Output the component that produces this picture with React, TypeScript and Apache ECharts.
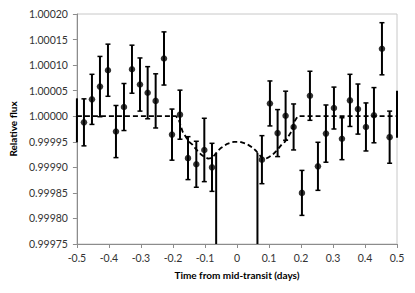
import React, { useEffect, useRef } from "react";
import * as echarts from "echarts";

// Observed points
const pointX = [-0.478, -0.453, -0.428, -0.403, -0.378, -0.353, -0.328, -0.303, -0.279, -0.254, -0.228, -0.203, -0.178, -0.153, -0.127, -0.102, -0.078,
  0.078, 0.103, 0.127, 0.152, 0.177, 0.203, 0.228, 0.253, 0.278, 0.303, 0.328, 0.353, 0.378, 0.403, 0.428, 0.453, 0.477];
const flux = [0.999988, 1.000033, 1.000058, 1.00009, 0.99997, 1.000018, 1.000092, 1.000062, 1.000046, 1.00003, 1.000113, 0.999964, 1.000003, 0.999918, 0.999906, 0.999934, 0.9999,
  0.999915, 1.000025, 0.999967, 1.000001, 0.999979, 0.99985, 1.00004, 0.999902, 0.999966, 1.000016, 0.999956, 1.000031, 1.000014, 0.999979, 1.000002, 1.000132, 0.999959];
const fluxErr = [4.6e-5, 4.9e-5, 5.9e-5, 5.1e-5, 5.1e-5, 4.6e-5, 4.7e-5, 5.2e-5, 5.1e-5, 5.3e-5, 5.2e-5, 5.0e-5, 4.8e-5, 4.2e-5, 4.5e-5, 6.2e-5, 4.7e-5,
  4.7e-5, 4.4e-5, 4.6e-5, 4.8e-5, 4.5e-5, 4.4e-5, 4.8e-5, 4.7e-5, 5.6e-5, 4.1e-5, 4.1e-5, 5.1e-5, 4.9e-5, 4.7e-5, 5.4e-5, 5.1e-5, 5.1e-5];

// Error bars at the plot edges (markers outside the plot)
const edgeX = [-0.5, 0.5];
const edgeFlux = [0.999992, 1.000004];
const edgeErr = [4.3e-5, 4.6e-5];

// Vertical drop lines
const dropX = [-0.065, 0.064];
const dropTop = [0.999928, 0.999928];
const dropBottom = [0.99975, 0.99975];

// Model curve
const modelX = [-0.5, -0.19, -0.18, -0.17, -0.16, -0.15, -0.14, -0.13, -0.12, -0.11, -0.1, -0.09, -0.08, -0.07, -0.06, -0.05, -0.04, -0.03, -0.02, -0.01, 0,
  0.01, 0.02, 0.03, 0.04, 0.05, 0.06, 0.07, 0.08, 0.09, 0.1, 0.11, 0.12, 0.13, 0.14, 0.15, 0.16, 0.17, 0.18, 0.19, 0.5];
const modelFlux = [1.0, 1.0, 0.99999, 0.99997, 0.99996, 0.99995, 0.999945, 0.999937, 0.99993, 0.999924, 0.99992, 0.999917, 0.999918, 0.999924, 0.999932, 0.999938, 0.999942, 0.999946, 0.999948, 0.99995, 0.99995,
  0.99995, 0.999948, 0.999946, 0.999942, 0.999938, 0.999932, 0.999924, 0.999918, 0.999917, 0.99992, 0.999924, 0.99993, 0.999937, 0.999945, 0.99995, 0.99996, 0.99997, 0.99999, 1.0, 1.0];

const FONT = "Lato";

function makeBars(withCaps: boolean, lw: number) {
  return (params: any, api: any) => {
    const x = api.value(0);
    const lo = api.value(1);
    const hi = api.value(2);
    const top = api.coord([x, hi]);
    const bot = api.coord([x, lo]);
    const cap = 2.5;
    const children: any[] = [
      { type: "line", shape: { x1: top[0], y1: top[1], x2: bot[0], y2: bot[1] }, style: { stroke: "#000", lineWidth: lw } },
    ];
    if (withCaps) {
      children.push({ type: "line", shape: { x1: top[0] - cap, y1: top[1], x2: top[0] + cap, y2: top[1] }, style: { stroke: "#000", lineWidth: 1.5 } });
      children.push({ type: "line", shape: { x1: bot[0] - cap, y1: bot[1], x2: bot[0] + cap, y2: bot[1] }, style: { stroke: "#000", lineWidth: 1.5 } });
    }
    return { type: "group", children };
  };
}

export default function App() {
  const ref = useRef<HTMLDivElement>(null);
  useEffect(() => {
    document.body.style.margin = "0";
    const chart = echarts.init(ref.current!, null, { renderer: "svg" });
    const barData = pointX.map((x, i) => [x, flux[i] - fluxErr[i], flux[i] + fluxErr[i]]);
    const edgeData = edgeX.map((x, i) => [x, edgeFlux[i] - edgeErr[i], edgeFlux[i] + edgeErr[i]]);
    const dropData = dropX.map((x, i) => [x, dropBottom[i], dropTop[i]]);
    chart.setOption({
      animation: false,
      backgroundColor: "#fff",
      grid: { left: 75, right: 18, top: 14, bottom: 49, show: true, borderColor: "#c8c8c8", borderWidth: 1 },
      xAxis: {
        type: "value",
        min: -0.5,
        max: 0.5,
        interval: 0.1,
        name: "Time from mid-transit (days)",
        nameLocation: "middle",
        nameGap: 26,
        nameTextStyle: { fontFamily: FONT, fontWeight: "bold", fontSize: 10, color: "#000" },
        axisLine: { onZero: false, lineStyle: { color: "#8c8c8c" } },
        axisTick: { show: true, length: 4, lineStyle: { color: "#8c8c8c" } },
        axisLabel: { fontFamily: FONT, fontSize: 10.5, color: "#333", margin: 8, formatter: (v: number) => String(Number(v.toFixed(1))) },
        splitLine: { show: false },
      },
      yAxis: {
        type: "value",
        min: 0.99975,
        max: 1.0002,
        interval: 0.00005,
        name: "Relative flux",
        nameLocation: "middle",
        nameGap: 44,
        nameTextStyle: { fontFamily: FONT, fontWeight: "bold", fontSize: 10, color: "#000" },
        axisLine: { show: true, onZero: false, lineStyle: { color: "#8c8c8c" } },
        axisTick: { show: true, length: 4, lineStyle: { color: "#8c8c8c" } },
        axisLabel: { fontFamily: FONT, fontSize: 10.5, color: "#333", margin: 9, formatter: (v: number) => v.toFixed(5) },
        splitLine: { show: false },
      },
      series: [
        {
          type: "line",
          data: modelX.map((x, i) => [x, modelFlux[i]]),
          showSymbol: false,
          symbol: "none",
          lineStyle: { color: "#000", width: 1.8, type: [5, 3] },
          z: 2,
        },
        {
          type: "custom",
          data: dropData,
          encode: { x: 0, y: [1, 2] },
          renderItem: makeBars(false, 2),
          z: 3,
        },
        {
          type: "custom",
          data: edgeData,
          encode: { x: 0, y: [1, 2] },
          renderItem: makeBars(false, 2),
          z: 3,
        },
        {
          type: "custom",
          data: barData,
          encode: { x: 0, y: [1, 2] },
          renderItem: makeBars(true, 2),
          z: 3,
        },
        {
          type: "scatter",
          data: pointX.map((x, i) => [x, flux[i]]),
          symbol: "circle",
          symbolSize: 6.5,
          itemStyle: { color: "#000" },
          z: 4,
        },
      ],
    });
    return () => chart.dispose();
  }, []);
  return <div ref={ref} style={{ width: 415, height: 293 }} />;
}
